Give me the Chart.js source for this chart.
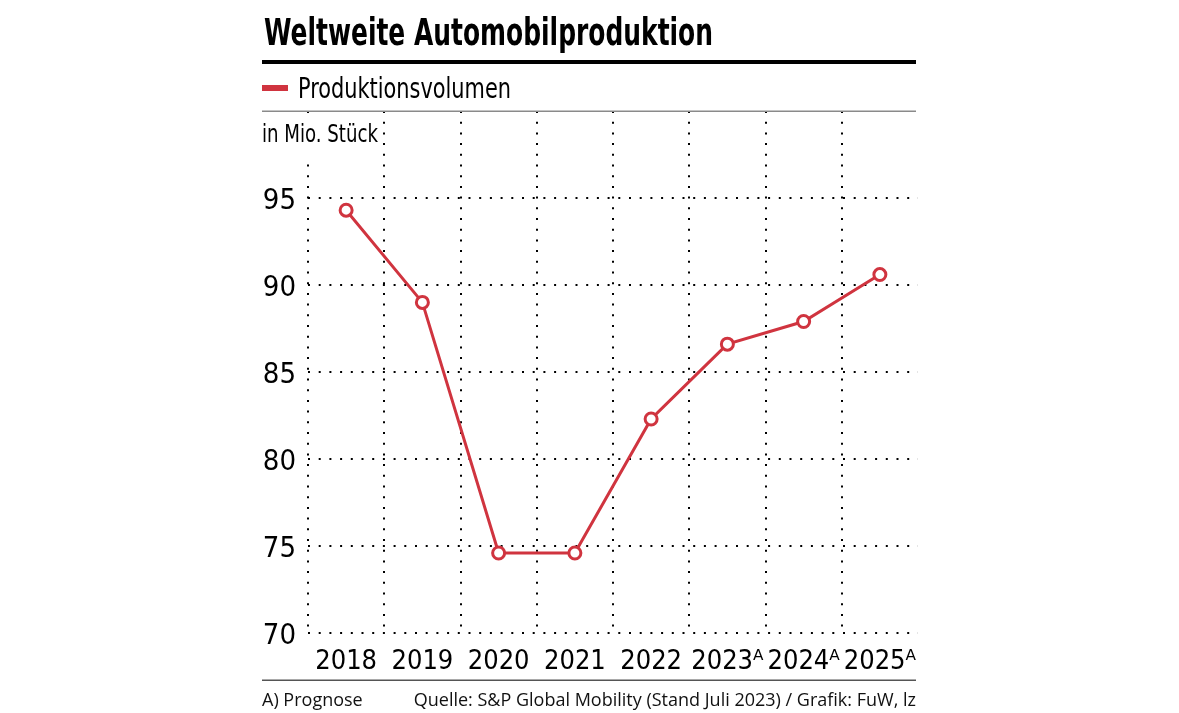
<!DOCTYPE html>
<html>
<head>
<meta charset="utf-8">
<script src="https://cdn.jsdelivr.net/npm/chart.js@4"></script>
<style>
  html, body { margin: 0; padding: 0; background: #fff; }
  #wrap { width: 1179px; height: 713px; position: relative; }
</style>
</head>
<body>
<div id="wrap"><canvas id="c" width="1179" height="713"></canvas></div>
<script>
const categories = ['2018', '2019', '2020', '2021', '2022', '2023ᴬ', '2024ᴬ', '2025ᴬ'];
const production = [94.3, 89.0, 74.6, 74.6, 82.3, 86.6, 87.9, 90.6];
const yTicks = [70, 75, 80, 85, 90, 95];
const titleText = 'Weltweite Automobilproduktion';
const seriesName = 'Produktionsvolumen';
const unitText = 'in Mio. Stück';
const noteText = 'A) Prognose';
const sourceText = 'Quelle: S&P Global Mobility (Stand Juli 2023) / Grafik: FuW, lz';

const NARROW = "'DejaVu Sans Condensed', 'Liberation Sans Narrow', 'Arial Narrow', sans-serif";
const SANS = "'Open Sans', 'Noto Sans', 'DejaVu Sans', sans-serif";
const RED = '#d0343f';

const decor = {
  id: 'decor',
  afterDraw(chart) {
    const ctx = chart.ctx;
    ctx.save();
    ctx.textBaseline = 'alphabetic';
    ctx.textAlign = 'left';
    // title (condensed to reference width)
    ctx.fillStyle = '#000';
    ctx.font = "bold 37px " + NARROW;
    ctx.fillText(titleText, 264, 45, 449);
    // thick rule under title
    ctx.fillRect(262, 60, 654, 4);
    // legend
    const ds = chart.data.datasets[0];
    ctx.fillStyle = ds.borderColor;
    ctx.fillRect(262, 85, 26, 6);
    ctx.fillStyle = '#000';
    ctx.font = "29px " + NARROW;
    ctx.fillText(ds.label, 298, 98, 213);
    // thin rule under legend
    ctx.fillStyle = '#8a8a8a';
    ctx.fillRect(262, 110.5, 654, 1.5);
    // bottom rule
    ctx.fillStyle = '#555';
    ctx.fillRect(262, 679.5, 654, 1.5);
    // unit label with white background
    ctx.fillStyle = '#fff';
    ctx.fillRect(262, 113, 119, 44);
    ctx.fillStyle = '#000';
    ctx.font = "25px " + NARROW;
    ctx.fillText(unitText, 262, 142, 116);
    // footer
    ctx.font = "18px " + SANS;
    ctx.fillStyle = '#111';
    ctx.textBaseline = 'middle';
    ctx.fillText(noteText, 262, 701);
    ctx.textAlign = 'right';
    ctx.fillText(sourceText, 916, 701);
    ctx.restore();
  }
};

new Chart(document.getElementById('c'), {
  type: 'line',
  data: {
    labels: categories,
    datasets: [{
      label: seriesName,
      data: production,
      borderColor: RED,
      backgroundColor: RED,
      borderWidth: 3,
      pointRadius: 6,
      pointBorderWidth: 3,
      pointBackgroundColor: '#fff',
      pointBorderColor: RED,
      tension: 0
    }]
  },
  options: {
    responsive: false,
    animation: false,
    devicePixelRatio: 1,
    layout: { padding: { left: 262, right: 261, top: 111, bottom: 33 } },
    plugins: {
      title: { display: false },
      legend: { display: false },
      tooltip: { enabled: false }
    },
    scales: {
      x: {
        offset: true,
        grid: {
          offset: true,
          drawTicks: false,
          lineWidth: 2,
          color: (c) => (c.type === 'tick' && c.index < 8 ? '#000' : 'rgba(0,0,0,0)')
        },
        border: { display: false, dash: [2, 8.7], dashOffset: 0 },
        ticks: {
          color: '#000',
          padding: 13,
          autoSkip: false,
          maxRotation: 0,
          minRotation: 0,
          font: { family: NARROW, size: 27 }
        },
        afterFit(scale) { scale.height = 47; }
      },
      y: {
        min: 70,
        max: 100,
        afterBuildTicks(scale) { scale.ticks = yTicks.concat([100]).map(v => ({ value: v })); },
        grid: {
          drawTicks: false,
          lineWidth: 2,
          color: (c) => (c.tick && c.tick.value === 100 ? 'rgba(0,0,0,0)' : '#000')
        },
        border: { display: false, dash: [2, 8.7] },
        ticks: {
          color: '#000',
          padding: 12,
          labelOffset: 3,
          font: { family: NARROW, size: 29 },
          callback: (v) => (v === 100 ? '' : v)
        },
        afterFit(scale) { scale.width = 46; }
      }
    }
  },
  plugins: [decor]
});
</script>
</body>
</html>
